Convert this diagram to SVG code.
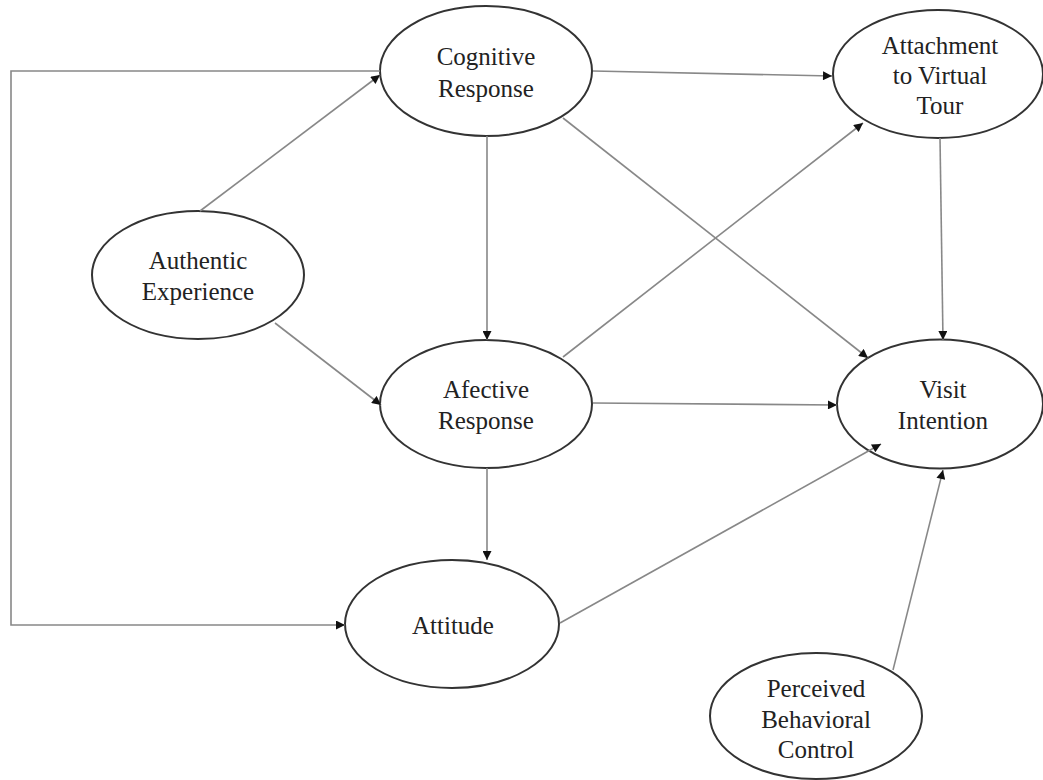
<svg xmlns="http://www.w3.org/2000/svg" width="1043" height="780" viewBox="0 0 1043 780">
<style>
.node ellipse{fill:#fff;stroke:#333;stroke-width:2}
.node text{font-family:"Liberation Serif","Times New Roman",serif;font-size:25px;fill:#222;text-anchor:middle}
.edge{fill:none;stroke:#888;stroke-width:1.6;marker-end:url(#ah)}
</style>
<defs>
<marker id="ah" viewBox="0 0 10 10" refX="10" refY="5" markerWidth="11" markerHeight="9" markerUnits="userSpaceOnUse" orient="auto">
<path d="M0,0 L10,5 L0,10 Z" fill="#111"/>
</marker>
</defs>
<rect width="1043" height="780" fill="#fff"/>
<g id="cognitive" class="node"><ellipse cx="486" cy="71" rx="106" ry="65"/><text x="486" y="65">Cognitive</text><text x="486" y="97">Response</text></g>
<g id="attachment" class="node"><ellipse cx="938" cy="74" rx="105" ry="64"/><text x="940" y="54">Attachment</text><text x="940" y="84">to Virtual</text><text x="940" y="114">Tour</text></g>
<g id="authentic" class="node"><ellipse cx="198" cy="275" rx="106" ry="64"/><text x="198" y="269">Authentic</text><text x="198" y="300">Experience</text></g>
<g id="afective" class="node"><ellipse cx="486" cy="404" rx="106" ry="64"/><text x="486" y="398">Afective</text><text x="486" y="429">Response</text></g>
<g id="visit" class="node"><ellipse cx="940" cy="404" rx="103" ry="64.5"/><text x="943" y="398">Visit</text><text x="943" y="429">Intention</text></g>
<g id="attitude" class="node"><ellipse cx="452" cy="624" rx="107" ry="64"/><text x="453" y="634">Attitude</text></g>
<g id="pbc" class="node"><ellipse cx="816" cy="716" rx="106" ry="63"/><text x="816" y="697">Perceived</text><text x="816" y="728">Behavioral</text><text x="816" y="758">Control</text></g>
<g id="connectors">
<path class="edge" d="M380,71 L11,71 L11,625 L345,625"/>
<path class="edge" d="M200,211 L380,75"/>
<path class="edge" d="M275,323 L381,405"/>
<path class="edge" d="M487,136 L487,340"/>
<path class="edge" d="M593,71 L832,76"/>
<path class="edge" d="M563,118 L868,358"/>
<path class="edge" d="M563,357 L863,123"/>
<path class="edge" d="M593,403 L837,405"/>
<path class="edge" d="M487,468 L487,560"/>
<path class="edge" d="M940,138 L943,340"/>
<path class="edge" d="M560,623 L881,444"/>
<path class="edge" d="M893,670 L943,470"/>
</g>
</svg>
